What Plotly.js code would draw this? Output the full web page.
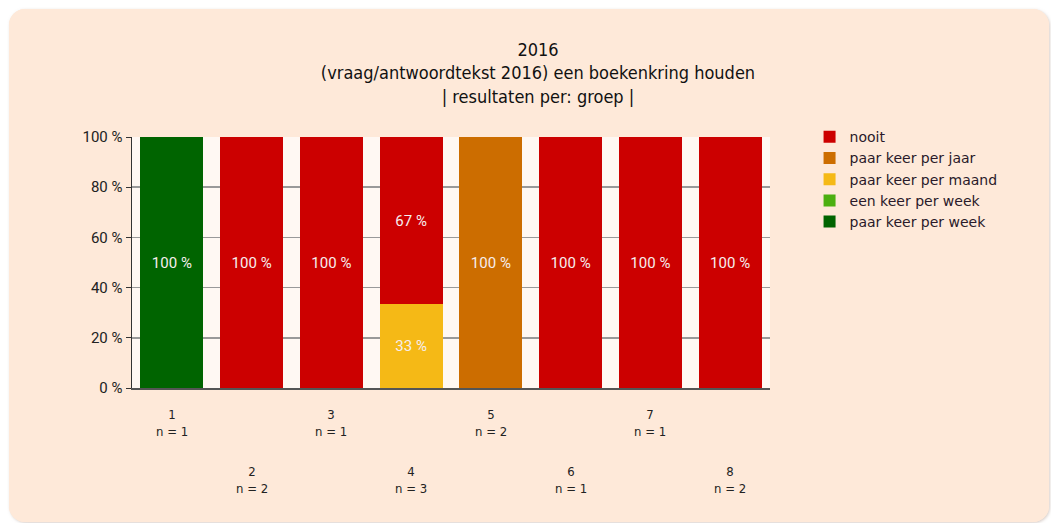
<!DOCTYPE html>
<html>
<head>
<meta charset="utf-8">
<script src="https://cdn.plot.ly/plotly-3.0.1.min.js"></script>
<style>
  html, body { margin: 0; padding: 0; background: #ffffff; width: 1051px; height: 523px; overflow: hidden; }
  #box { position: absolute; left: 9px; top: 9px; width: 1040px; height: 513px; border-radius: 16px; overflow: hidden; background: #fee9d9; box-shadow: 1px 1px 3px rgba(180,160,150,0.5); }
  #chart { width: 1040px; height: 513px; }
</style>
</head>
<body>
<div id="box"><div id="chart"></div></div>
<script>
const categories = ["1", "2", "3", "4", "5", "6", "7", "8"];
const nCounts = [1, 2, 1, 3, 2, 1, 1, 2];
const yTickVals = [0, 20, 40, 60, 80, 100];
const yTickText = ["0 %", "20 %", "40 %", "60 %", "80 %", "100 %"];

// percentages per answer per group
const paarKeerPerWeek  = [100, 0, 0, 0, 0, 0, 0, 0];
const eenKeerPerWeek   = [0, 0, 0, 0, 0, 0, 0, 0];
const paarKeerPerMaand = [0, 0, 0, 33.33, 0, 0, 0, 0];
const paarKeerPerJaar  = [0, 0, 0, 0, 100, 0, 0, 0];
const nooit            = [0, 100, 100, 66.67, 0, 100, 100, 100];

const seriesNames  = ["paar keer per week", "een keer per week", "paar keer per maand", "paar keer per jaar", "nooit"];
const seriesValues = [paarKeerPerWeek, eenKeerPerWeek, paarKeerPerMaand, paarKeerPerJaar, nooit];
const seriesColors = ["#006400", "#4caf10", "#f5b916", "#cc6d00", "#cc0000"];

const narrow = "'DejaVu Sans Condensed', 'Liberation Sans Narrow', 'Arial Narrow', sans-serif";

const traces = seriesNames.map((name, s) => ({
  type: "bar",
  name: name,
  x: categories,
  y: seriesValues[s],
  marker: { color: seriesColors[s], line: { width: 0 } },
  text: seriesValues[s].map(v => v > 0 ? Math.round(v) + " %" : ""),
  textposition: "inside",
  insidetextanchor: "middle",
  textangle: 0,
  textfont: { family: "Roboto, sans-serif", size: 15, color: "#f6eeee" },
  hoverinfo: "name+y"
}));

const annotations = categories.map((c, i) => ({
  x: i,
  xref: "x",
  yref: "paper",
  y: i % 2 === 0 ? -0.066 : -0.293,
  yanchor: "top",
  xanchor: "center",
  showarrow: false,
  text: c + "<br>n = " + nCounts[i],
  align: "center",
  font: { family: narrow, size: 13, color: "#222222" }
}));

const layout = {
  width: 1040,
  height: 513,
  paper_bgcolor: "#fee9d9",
  plot_bgcolor: "#fff8f3",
  margin: { l: 123, r: 279, t: 128, b: 134 },
  barmode: "stack",
  bargap: 0.21,
  showlegend: true,
  title: {
    text: "2016<br>(vraag/antwoordtekst 2016) een boekenkring houden<br>| resultaten per: groep |",
    x: 529 / 1040,
    xref: "container",
    xanchor: "center",
    y: 1 - 47 / 513,
    yref: "container",
    yanchor: "top",
    font: { family: narrow, size: 18, color: "#111111" }
  },
  xaxis: {
    type: "category",
    range: [-0.5, 7.5],
    showticklabels: false,
    showgrid: false,
    showline: true,
    linecolor: "#555555",
    linewidth: 2,
    ticks: "",
    zeroline: false
  },
  yaxis: {
    range: [0, 100],
    tickmode: "array",
    tickvals: yTickVals,
    ticktext: yTickText,
    tickfont: { family: "Roboto, sans-serif", size: 15, color: "#222222" },
    showgrid: true,
    gridcolor: "#999999",
    gridwidth: 1.5,
    showline: true,
    linecolor: "#333333",
    linewidth: 1.5,
    ticks: "outside",
    ticklen: 5,
    tickcolor: "#333333",
    zeroline: false,
    fixedrange: true
  },
  legend: {
    x: 1.062,
    xanchor: "left",
    y: 1.063,
    yanchor: "top",
    traceorder: "reversed",
    tracegroupgap: 0,
    bgcolor: "rgba(0,0,0,0)",
    itemwidth: 30,
    font: { family: "'DejaVu Sans', Verdana, sans-serif", size: 14, color: "#2a1a2a" }
  },
  annotations: annotations
};

Plotly.newPlot("chart", traces, layout, { displayModeBar: false, staticPlot: true });
</script>
</body>
</html>
